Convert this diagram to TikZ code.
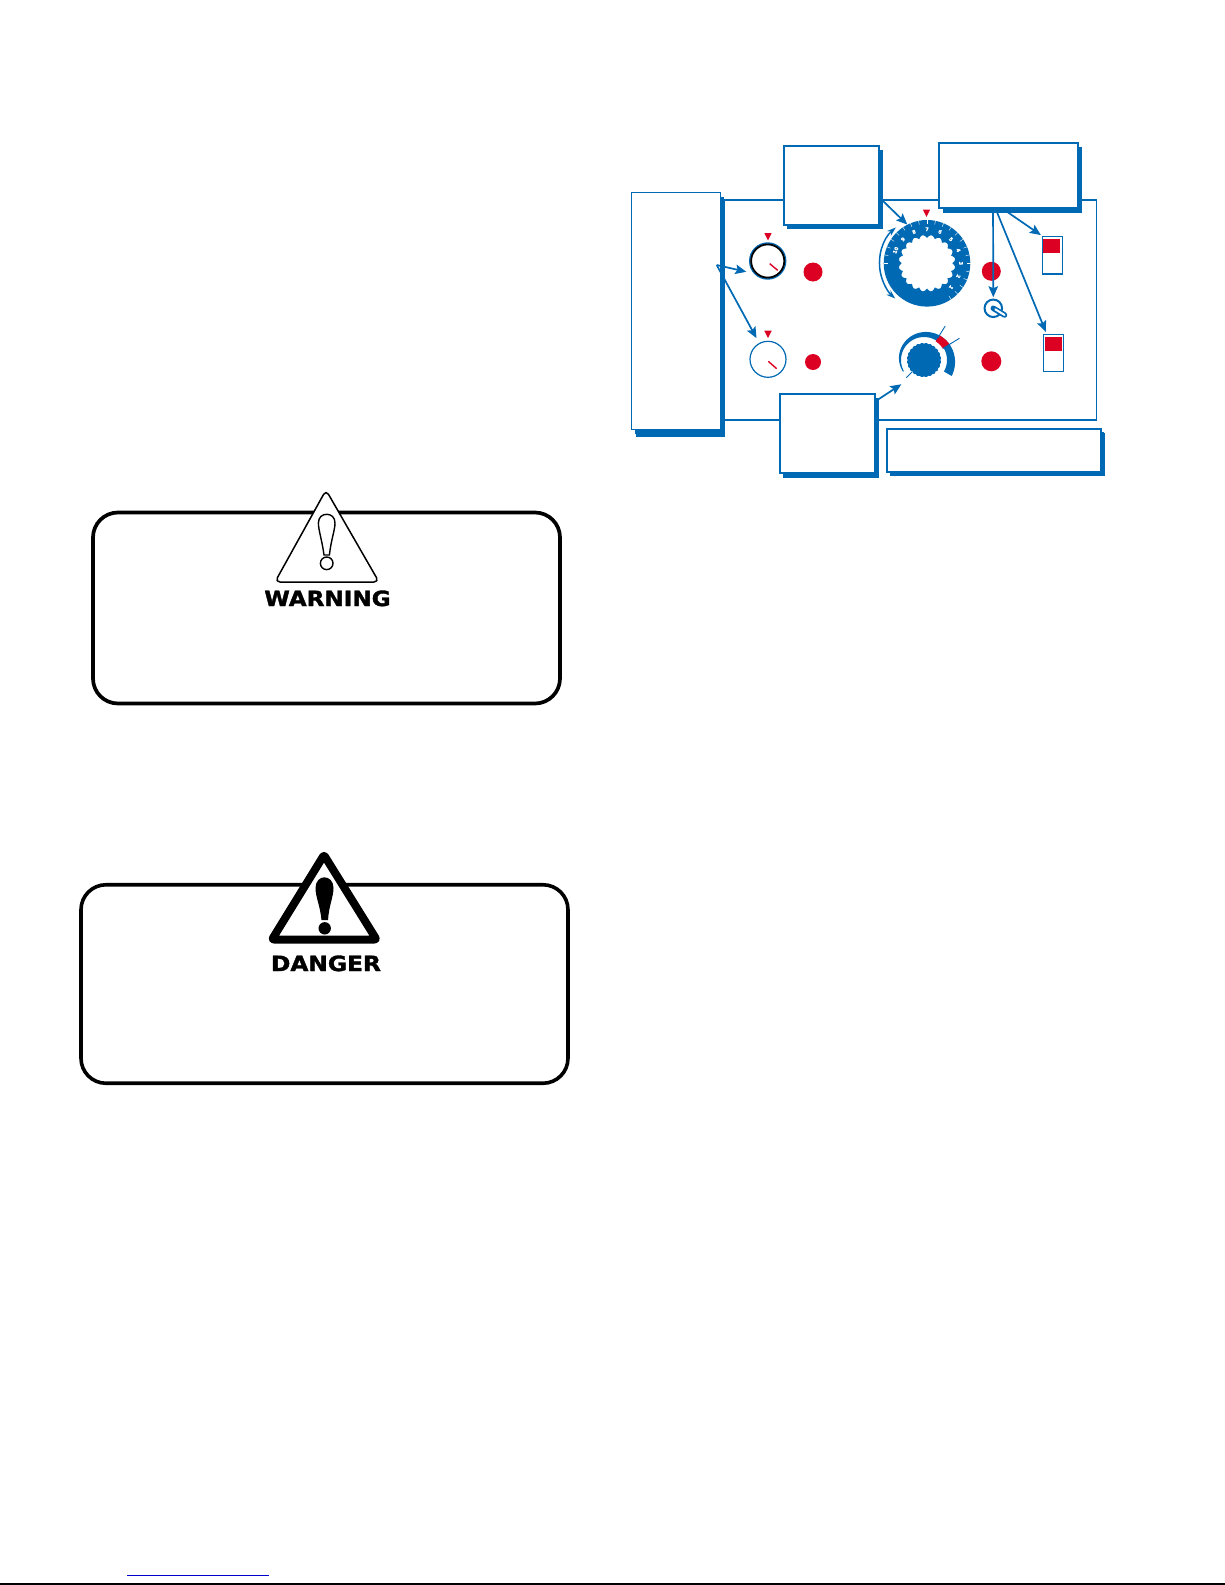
\documentclass[tikz,border=0pt]{standalone}
\usepackage{fontspec}
\usepackage{graphicx}
\usetikzlibrary{arrows.meta,shadows}
\newfontfamily\signfont{DejaVu Sans}[BoldFeatures={FakeBold=1.6}]
\definecolor{panelblue}{RGB}{0,105,180}
\definecolor{markred}{RGB}{220,0,35}
\tikzset{
  boxa/.style={draw=panelblue,fill=white,line width=2pt,inner sep=0pt,general shadow={fill=panelblue,shadow xshift=3.5pt,shadow yshift=-4.5pt}},
  callout/.style={draw=panelblue,line width=1.7pt,-{Stealth[length=11pt,width=9.5pt,inset=2pt]}},
  reddot/.style={circle,fill=markred,inner sep=0pt},
  dialface/.style={circle,draw=panelblue,line width=1.2pt,fill=white,minimum size=36pt,inner sep=0pt},
  switchbody/.style={draw=panelblue,line width=1.2pt,fill=white,inner sep=0pt},
  alertbox/.style={draw=black,rounded corners=25pt,fill=white,inner sep=0pt},
  signtext/.style={font=\signfont\bfseries\fontsize{21}{21}\selectfont,inner sep=0pt}
}
\begin{document}
\begin{tikzpicture}[x=1pt,y=-1pt]
\useasboundingbox (0,0) rectangle (1225,1585);

% control panel
\node[draw=panelblue,line width=1.5pt,minimum width=376pt,minimum height=220pt,inner sep=0pt] (panel) at (908.3,310.2) {};

\node[boxa,line width=1.1pt,minimum width=89pt,minimum height=237.4pt,general shadow={fill=panelblue,shadow xshift=4.5pt,shadow yshift=-7pt}] (dialbox) at (675.8,311) {};
\node[boxa,minimum width=95.6pt,minimum height=79.3pt] (speedbox) at (831.5,185.3) {};
\node[boxa,minimum width=139pt,minimum height=65.6pt] (switchbox) at (1008.8,175.5) {};
\node[boxa,minimum width=95.5pt,minimum height=79.6pt] (knobbox) at (827.7,433.5) {};
\node[boxa,minimum width=214.5pt,minimum height=43pt,general shadow={fill=panelblue,shadow xshift=3pt,shadow yshift=-3pt}] (notebox) at (994.2,450.2) {};

% small dials
\node[dialface,line width=1.4pt] (dial1) at (767.7,261) {};
\draw[black,line width=1.8pt] (dial1.center) circle (16.6);
\node[dialface] (dial2) at (768,359.3) {};
\draw[markred,line width=1.4pt] (769.7,263.7) -- (777.7,270.3);
\draw[markred,line width=1.4pt] (768.3,361.3) -- (776.7,368.7);
\foreach \x/\y in {768/233,768/330.7,926.5/209.5}
  \fill[markred] (\x-3.7,\y) -- (\x+3.7,\y) -- (\x,\y+7.3) -- cycle;

\node[reddot,minimum size=19pt] (lampa) at (813,272) {};
\node[reddot,minimum size=16pt] (lampb) at (813,362) {};
\node[reddot,minimum size=19pt] (lampc) at (991.3,271.3) {};
\node[reddot,minimum size=20pt] (lampd) at (991.3,361.3) {};

% big dial
\node[circle,minimum size=86.6pt,inner sep=0pt] (bigdial) at (927,263.3) {};
\begin{scope}[shift={(927,263.3)},y=1pt]
\fill[panelblue,even odd rule] (0,0) circle (43.3)
  plot[domain=0:360,samples=361] (\x:{25.3+3*abs(sin(10*\x))}) -- cycle;
\foreach \a in {-56.25,-45,...,180}
  \draw[white,line width=0.4pt] (\a:39.5) -- (\a:43.5);
\foreach \n [count=\i from 0] in {7,6,5,4,3,2,1}
  \node[white,rotate=-22.5*\i,inner sep=0pt,font=\signfont\bfseries\fontsize{5}{5}\selectfont] (num\n) at ({90-22.5*\i}:34) {\n};
\foreach \n [count=\i from 1] in {8,9,10}
  \node[white,rotate=22.5*\i,inner sep=0pt,font=\signfont\bfseries\fontsize{5}{5}\selectfont] (num\n) at ({90+22.5*\i}:34) {\n};
\draw[panelblue,line width=1.5pt,{Stealth[length=9pt,width=6pt]}-{Stealth[length=9pt,width=6pt]}] (131:47.5) arc[start angle=131,end angle=228,radius=47.5];
\end{scope}

% selector
\node[circle,draw=panelblue,line width=2pt,minimum size=17.5pt,inner sep=0pt] (selector) at (993.3,308.3) {};
\draw[panelblue,line width=5.5pt,line cap=round] (selector.center) -- (1004.5,315);
\draw[white,line width=2pt,line cap=round] ([shift={(2,1)}]selector.center) -- (1004.5,315);

% knob
\node[circle,minimum size=66pt,inner sep=0pt] (knob) at (924,360) {};
\begin{scope}[shift={(924,360)},y=1pt]
\fill[panelblue] plot[domain=0:360,samples=361] (\x:{16.2+0.9*abs(sin(12*\x))}) -- cycle;
\fill[panelblue] plot[domain=209:-30,samples=60] (\x:{24+8*(209-\x)/239})
  -- plot[domain=-30:209,samples=60] (\x:23) -- cycle;
\fill[markred] plot[domain=58:31,samples=10] (\x:{24+8*(209-\x)/239})
  -- plot[domain=31:58,samples=10] (\x:22) -- cycle;
\draw[panelblue,line width=0.9pt] (58:26) -- (58:40);
\draw[panelblue,line width=0.9pt] (31.5:22) -- (31.5:41.5);
\draw[panelblue,line width=0.9pt] (225:17) -- (225:25);
\end{scope}

% switches
\node[switchbody,minimum width=20pt,minimum height=37.7pt] (sw1) at (1052.3,255.1) {};
\fill[markred] (1043,239) rectangle (1060,252.7);
\node[switchbody,minimum width=20.4pt,minimum height=37pt] (sw2) at (1053.5,352.8) {};
\fill[markred] (1045,337) rectangle (1062,350.7);

% connectors
\coordinate (dialfork) at (716.7,265);
\draw[callout,shorten >=7.7pt] (dialfork) -- (dial1.222);
\draw[callout,shorten >=5.5pt] (dialfork) -- (dial2);
\draw[callout] (speedbox.-15) -- (bigdial.117);
\draw[callout] (knobbox.34) -- (knob.227);
\draw[callout,shorten >=1.3pt] (switchbox.245) -- (selector.north);
\draw[callout,shorten >=2pt] (switchbox.249) -- (sw2.110);
\draw[callout,shorten >=1pt] (switchbox.261) -- (sw1.north west);

% warning sign
\node[alertbox,line width=3.7pt,minimum width=467pt,minimum height=191pt] (warningbox) at (326.5,608) {};
\draw[black,fill=white,line width=1.5pt,line join=round,rounded corners=5pt] (326,490) -- (379,582) -- (275,582) -- cycle;
\draw[black,fill=white,line width=1.4pt] (324,555) .. controls (322,540) and (318.4,530) .. (318.4,523) .. controls (318.4,517) and (322.5,514.3) .. (326.7,514.3) .. controls (331,514.3) and (335,517) .. (335,523) .. controls (335,530) and (331,540) .. (329.4,555) -- cycle;
\draw[black,fill=white,line width=1.4pt] (326.7,563.3) circle (6.3);
\node[signtext] (warningtext) at (327.5,598.4) {\scalebox{1.10}[1]{WARNING}};

% danger sign
\node[alertbox,line width=3.6pt,minimum width=487pt,minimum height=198.5pt] (dangerbox) at (324.5,984) {};
\draw[black,fill=white,line width=8pt,line join=round,rounded corners=2pt] (324,855) -- (376.5,939.5) -- (272,939.5) -- cycle;
\fill[black] (321.5,920) .. controls (320,905) and (315.5,897) .. (315.5,888) .. controls (315.5,881) and (320,877.3) .. (324.3,877.3) .. controls (329,877.3) and (333.5,881) .. (333.5,888) .. controls (333.5,897) and (329,905) .. (328,920) -- cycle;
\fill[black] (324.7,928.3) circle (6.2);
\node[signtext] (dangertext) at (326,963.4) {\scalebox{1.11}[1]{DANGER}};

% footer
\draw[blue!80!black,line width=1pt] (127,1575) -- (268.7,1575);
\draw[black,line width=1.2pt] (0,1584) -- (1225,1584);
\end{tikzpicture}
\end{document}
